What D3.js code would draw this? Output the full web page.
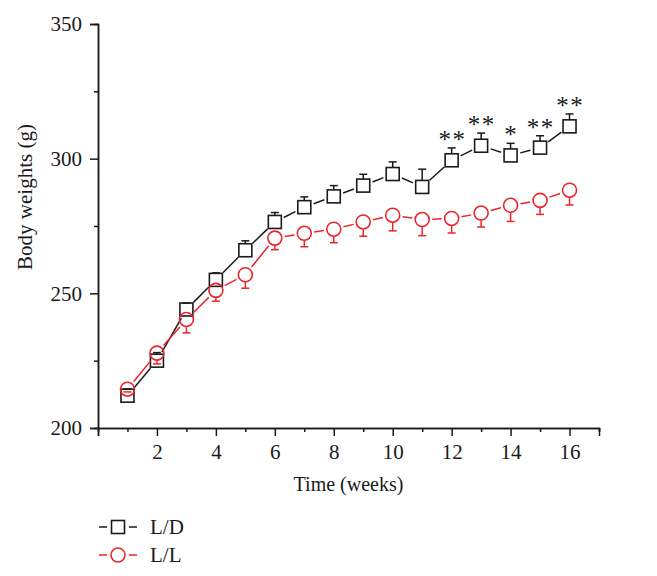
<!DOCTYPE html>
<html><head><meta charset="utf-8">
<script src="https://cdn.jsdelivr.net/npm/d3@7"></script>
<style>body{margin:0;background:#fff}svg{display:block}text{font-family:"Liberation Serif","Times New Roman",serif;fill:#1a1a1a}</style>
</head><body>
<script>
const weeks = [1,2,3,4,5,6,7,8,9,10,11,12,13,14,15,16];
const ldMean = [212,225,244,255,266,276.5,282,286,290,294.3,289.5,299.4,304.8,301.2,304.1,312];
const ldErr  = [2.5,3,2.4,2.6,3.5,3.5,3.8,4,4.2,4.5,6.6,4.6,4.7,4.5,4.4,4.6];
const llMean = [214.4,227.8,240.3,251.1,256.9,270.5,272.3,273.8,276.5,279,277.4,277.8,279.8,282.7,284.5,288.3];
const llErr  = [1,4,5,4,5,4.3,5,5,5.3,5.8,6,5.4,5.2,6,5.2,5.5];
const stars  = ["","","","","","","","","","","","**","**","*","**","**"];
const xTicks = [2,4,6,8,10,12,14,16];
const yTicks = [200,250,300,350];
const seriesNames = ["L/D","L/L"];

const W=657,H=576;
const BLACK="#1a1a1a", RED="#e8262b";
const svg=d3.select("body").append("svg").attr("width",W).attr("height",H);
const x=d3.scaleLinear().domain([0,17]).range([98,599]);
const y=d3.scaleLinear().domain([200,350]).range([428,24]);

// axes
const xAxis=svg.append("g").attr("transform",`translate(0,${y(200)})`)
  .call(d3.axisBottom(x).tickValues(d3.range(0,18,2)).tickSize(8).tickFormat(d=>xTicks.includes(d)?d:""));
const xMinor=svg.append("g").attr("transform",`translate(0,${y(200)})`)
  .call(d3.axisBottom(x).tickValues(d3.range(1,18,2)).tickSize(4).tickFormat(""));
const yAxis=svg.append("g").attr("transform",`translate(${x(0)},0)`)
  .call(d3.axisLeft(y).tickValues(yTicks).tickSize(8).tickPadding(8));
const yMinor=svg.append("g").attr("transform",`translate(${x(0)},0)`)
  .call(d3.axisLeft(y).tickValues([225,275,325]).tickSize(4).tickFormat(""));
[xAxis,xMinor,yAxis,yMinor].forEach(g=>{
  g.select(".domain").attr("stroke",BLACK).attr("stroke-width",1.5);
  g.selectAll(".tick line").attr("stroke",BLACK).attr("stroke-width",1.5);
  g.selectAll(".tick text").attr("font-size",21).style("font-family",'"Liberation Serif",serif').attr("fill",BLACK);
});
xAxis.selectAll(".tick text").attr("dy","0.95em");

svg.append("text").attr("x",(x(0)+x(17))/2).attr("y",491).attr("text-anchor","middle").attr("font-size",20).text("Time (weeks)");
svg.append("text").attr("transform","translate(32,197) rotate(-90)").attr("text-anchor","middle").attr("font-size",21).text("Body weights (g)");

function series(mean,err,color,shape,up){
  const g=svg.append("g");
  const pts=weeks.map((w,i)=>[x(w),y(mean[i])]);
  const r=7, gap=3;
  for(let i=0;i<pts.length-1;i++){
    const [x1,y1]=pts[i],[x2,y2]=pts[i+1];
    const dx=x2-x1,dy=y2-y1,L=Math.hypot(dx,dy);
    const t=(r+gap)/L;
    if(t<0.5) g.append("line").attr("x1",x1+dx*t).attr("y1",y1+dy*t).attr("x2",x2-dx*t).attr("y2",y2-dy*t)
      .attr("stroke",color).attr("stroke-width",1.5);
  }
  weeks.forEach((w,i)=>{
    const cx=x(w), cy=y(mean[i]);
    const ey=y(up?mean[i]+err[i]:mean[i]-err[i]);
    const edge=up?cy-6.5:cy+7;
    if((up&&ey<edge)||(!up&&ey>edge)) g.append("line").attr("x1",cx).attr("x2",cx).attr("y1",edge).attr("y2",ey).attr("stroke",color).attr("stroke-width",1.5);
    g.append("line").attr("x1",cx-4).attr("x2",cx+4).attr("y1",ey).attr("y2",ey).attr("stroke",color).attr("stroke-width",1.5);
    if(shape==="square") g.append("rect").attr("x",cx-6.5).attr("y",cy-6.5).attr("width",13).attr("height",13).attr("fill","none").attr("stroke",color).attr("stroke-width",1.6);
    else g.append("circle").attr("cx",cx).attr("cy",cy).attr("r",7).attr("fill","none").attr("stroke",color).attr("stroke-width",1.6);
  });
}
series(ldMean,ldErr,BLACK,"square",true);
series(llMean,llErr,RED,"circle",false);

// significance stars
weeks.forEach((w,i)=>{
  const s=stars[i]; if(!s) return;
  const cy=y(ldMean[i]+ldErr[i])-12;
  const n=s.length;
  for(let k=0;k<n;k++){
    const cx=x(w)+(k-(n-1)/2)*14;
    svg.append("text").attr("x",cx).attr("y",cy+12).attr("text-anchor","middle").attr("font-size",25).text("*");
  }
});

// legend
const leg=[{name:seriesNames[0],color:BLACK,shape:"square",y:527},{name:seriesNames[1],color:RED,shape:"circle",y:555}];
leg.forEach(d=>{
  const g=svg.append("g");
  g.append("line").attr("x1",99).attr("x2",107).attr("y1",d.y).attr("y2",d.y).attr("stroke",d.color).attr("stroke-width",1.5);
  g.append("line").attr("x1",129).attr("x2",137).attr("y1",d.y).attr("y2",d.y).attr("stroke",d.color).attr("stroke-width",1.5);
  if(d.shape==="square") g.append("rect").attr("x",111.5).attr("y",d.y-6.5).attr("width",13).attr("height",13).attr("fill","none").attr("stroke",d.color).attr("stroke-width",1.6);
  else g.append("circle").attr("cx",118).attr("cy",d.y).attr("r",7).attr("fill","none").attr("stroke",d.color).attr("stroke-width",1.6);
  g.append("text").attr("x",150).attr("y",d.y+7).attr("font-size",21).text(d.name);
});
</script>
</body></html>
